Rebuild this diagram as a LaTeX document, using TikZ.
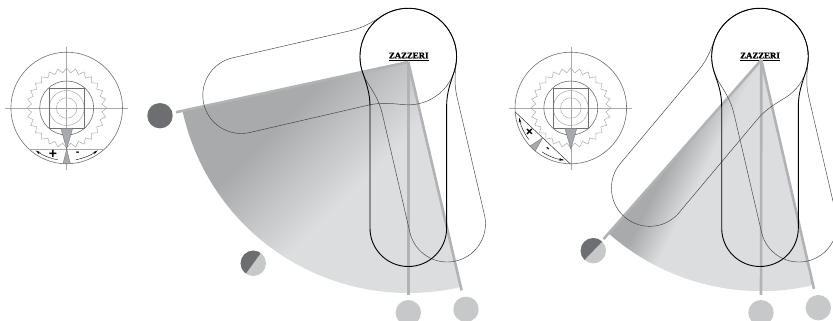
\documentclass[tikz,border=0pt]{standalone}
\usepackage{fontspec}
\usepackage{xcolor}
\usepackage{tikz}
\usetikzlibrary{shapes,arrows.meta,positioning}
\newfontfamily\brandfont[BoldFeatures={FakeBold=1.6}]{Liberation Serif}
\setsansfont{Liberation Sans}
\definecolor{discdark}{HTML}{6D6E71}
\definecolor{disclight}{HTML}{C7C8CA}
\definecolor{beamgray}{HTML}{B1B3B6}
\definecolor{sectordark}{HTML}{A9AAAC}
\definecolor{sectorlight}{HTML}{DCDDDF}
\definecolor{dialgray}{HTML}{6D6E71}
\definecolor{finegray}{HTML}{A7A9AC}
\pgfdeclarehorizontalshading{sectorfade}{100bp}{color(0bp)=(sectordark); color(47bp)=(sectordark); color(53bp)=(sectorlight); color(100bp)=(sectorlight)}

\begin{document}
\begin{tikzpicture}[
    x=1pt, y=-1pt,
    disc/.style={circle, fill=#1, minimum size=25.4pt, inner sep=0pt},
    halfdisc/.style={disc=disclight, path picture={\fill[discdark] (path picture bounding box.center) ++(-#1:14) arc[start angle=-#1, end angle=-#1-180, radius=14] -- cycle;}},
    beam/.style={line width=2.6pt, draw=beamgray},
    brand/.style={font=\brandfont\bfseries\fontsize{8.8}{9}\selectfont, inner sep=0pt},
    armthin/.style={color=black!75, line width=0.45pt},
    armbold/.style={color=black, line width=0.9pt},
    signmark/.style={font=\sffamily\bfseries\fontsize{#1}{#1}\selectfont, inner sep=0pt, transform shape},
    chordlight/.style={draw=finegray, line width=1pt},
    chorddark/.style={draw=black!80, line width=0.5pt},
    arm/.pic={
        \draw (38.3,50) .. controls (38.3,36) and (42.2,26.3) .. (45.9,14.9)
            arc[start angle=18, end angle=-198, radius=48.3]
            .. controls (-42.2,26.3) and (-38.3,36) .. (-38.3,50)
            -- (-38.3,171.6) arc[start angle=180, end angle=0, radius=38.3] -- cycle;
    },
    dial/.pic={
        \node[star, star points=28, star point ratio=1.13, minimum size=80pt, inner sep=0pt, draw=finegray, line width=0.5pt] (-gear) at (0,0) {};
        \draw[finegray, line width=0.5pt] (-61.5,0) -- (61.5,0) (0,-61) -- (0,62);
        \draw[finegray, line width=0.5pt] (0,0) circle[radius=10.3] (0,0) circle[radius=17.5];
        \draw[dialgray, line width=0.6pt] (0,0) circle[radius=55.8] (0,0) circle[radius=27];
        \draw[dialgray, line width=0.7pt] (-17.7,-19.7) rectangle (17.7,20.3);
        \draw[fill=finegray, draw=dialgray, line width=0.3pt] (-6,20.3) -- (6,20.3) -- (0,41) -- cycle;
    },
    segment/.pic={
        \draw[#1] (-37.9,41) -- (37.9,41);
        \draw[fill=finegray, draw=dialgray, line width=0.3pt] (0,41) -- (3.7,55.7) -- (-3.7,55.7) -- cycle;
        \draw[line width=0.4pt, -{Stealth[length=5pt, width=2.5pt]}] (100:52.5) arc[start angle=100, end angle=126, radius=52.5];
        \draw[line width=0.4pt, -{Stealth[length=5pt, width=2.5pt]}] (80:52.5) arc[start angle=80, end angle=54, radius=52.5];
        \node[signmark=14] (-plus) at (-13.7,46) {+};
        \node[signmark=11] (-minus) at (11,46) {-};
    }
]
    \useasboundingbox (0,0) rectangle (833,321);
    \clip (0,0) rectangle (833,321);

    \coordinate (pivotL) at (408.3,62);
    \coordinate (pivotR) at (761.3,60);
    \coordinate (hubL) at (408.3,56.6);
    \coordinate (hubR) at (760,56.6);

    \node[brand] (brandL) at (408.7,56.5) {\underline{ZAZZERI}};
    \node[brand] (brandR) at (760,56.5) {\underline{ZAZZERI}};

    % Swept areas
    \begin{scope}
        \clip (pivotL) -- ++(167.8:231) arc[start angle=167.8, end angle=77, radius=231] -- cycle;
        \shade[shading=sectorfade, shading angle=-45] (-179,-179) rectangle (652,652);
    \end{scope}
    \begin{scope}
        \clip (pivotR) -- ++(131.3:231) arc[start angle=131.3, end angle=77, radius=231] -- cycle;
        \fill[sectorlight] (0,0) rectangle (833,321);
        \shade[shading=sectorfade, shading angle=-27] (540,30) rectangle (800,370);
    \end{scope}

    % Handles
    \node[disc=discdark] (handA) at (160,115.7) {};
    \node[halfdisc=54] (handB) at (253.3,263.3) {};
    \node[disc=disclight] (handC) at (408.3,312.7) {};
    \node[disc=disclight] (handD) at (466,309.3) {};
    \node[halfdisc=46] (handE) at (593.3,250.7) {};
    \node[disc=disclight] (handF) at (761,312.7) {};
    \node[disc=disclight] (handG) at (818.3,307.7) {};

    \draw[beam, shorten >=3.5pt] (pivotL) -- (handA);
    \draw[beam, shorten >=5pt] (pivotL) -- (handC);
    \draw[beam, shorten >=6.5pt] (pivotL) -- (handD);
    \draw[beam, shorten >=2.5pt] (pivotR) -- (handE);
    \draw[beam, shorten >=5pt] (pivotR) -- (handF);
    \draw[beam, shorten >=6.5pt] (pivotR) -- (handG);

    % Arm positions
    \pic[armthin, rotate=-77] at (hubL) {arm};
    \pic[armthin, rotate=13.1] at (hubL) {arm};
    \pic[armbold] at (hubL) {arm};
    \pic[armthin, rotate=-40] at (hubR) {arm};
    \pic[armthin, rotate=13.1] at (hubR) {arm};
    \pic[armbold] at (hubR) {arm};

    % Dials
    \pic (dialL) at (66.7,108) {dial};
    \pic (segL) at (66.7,108) {segment=chordlight};
    \pic (dialR) at (570.8,108) {dial};
    \pic[rotate=-43.3] (segR) at (570.8,108) {segment=chorddark};
\end{tikzpicture}
\end{document}
